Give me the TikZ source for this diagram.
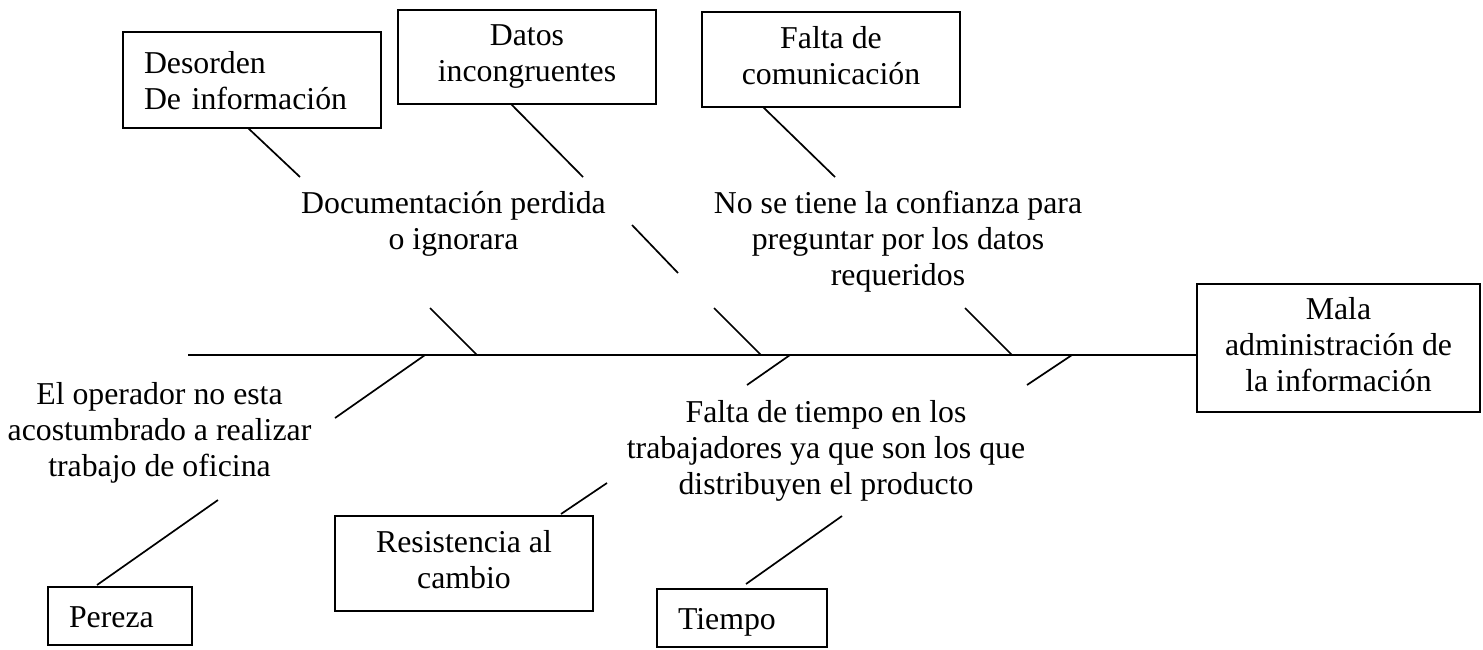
\documentclass[tikz,border=0pt]{standalone}
\usepackage{fontspec}
\setmainfont{Liberation Serif}
\tikzset{
  fb/.style={font=\fontsize{31.8}{36}\selectfont},
  box/.style={draw, line width=1.7pt, fb, inner sep=0pt, align=center,
    execute at begin node={\rule{0pt}{30pt}},
    execute at end node={\rule[-8pt]{0pt}{8pt}}},
  lbox/.style={box, align=left, inner xsep=21pt},
  txt/.style={fb, inner sep=0pt, align=center,
    execute at begin node=\strut, execute at end node=\strut},
  bone/.style={line width=1.7pt},
}
\begin{document}
\begin{tikzpicture}[x=1pt,y=-1pt]
\useasboundingbox (0,0) rectangle (1483,649);

% boxes
\node[lbox, text width=216pt, minimum height=96pt] (desorden) at (252,80) {Desorden\\De información};
\node[box, minimum width=258pt, minimum height=94pt] (datos) at (527,57) {Datos\\incongruentes};
\node[box, minimum width=258pt, minimum height=95pt] (falta) at (831,59.5) {Falta de\\comunicación};
\node[box, minimum width=283pt, minimum height=128pt] (mala) at (1338.5,348) {Mala\\administración de\\la información};
\node[lbox, text width=102pt, minimum height=58pt] (pereza) at (120,616) {Pereza};
\node[box, minimum width=258pt, minimum height=95pt] (resist) at (464,563.5) {Resistencia al\\cambio};
\node[lbox, text width=128pt, minimum height=58pt] (tiempo) at (742,618) {Tiempo};

% free texts
\node[txt] (doc) at (453.5,225.8) {Documentación perdida\\o ignorara};
\node[txt] (conf) at (898,243.8) {No se tiene la confianza para\\preguntar por los datos\\requeridos};
\node[txt] (oper) at (159.5,434.8) {El operador no esta\\acostumbrado a realizar\\trabajo de oficina};
\node[txt] (ftiempo) at (826,452.8) {Falta de tiempo en los\\trabajadores ya que son los que\\distribuyen el producto};

% spine
\coordinate (tail) at (188,355);
\draw[bone] (tail) -- (tail -| mala.west);

% upper ribs
\coordinate (u1a) at (248,128); \coordinate (u1b) at (300,177);
\coordinate (u1c) at (430,308); \coordinate (u1d) at (477,355);
\draw[bone] (u1a) -- (u1b) (u1c) -- (u1d);

\coordinate (u2a) at (511,104); \coordinate (u2b) at (583,177);
\coordinate (u2c) at (632,225); \coordinate (u2d) at (678,273);
\coordinate (u2e) at (714,308); \coordinate (u2f) at (761,355);
\draw[bone] (u2a) -- (u2b) (u2c) -- (u2d) (u2e) -- (u2f);

\coordinate (u3a) at (763,107); \coordinate (u3b) at (835,177);
\coordinate (u3c) at (965,308); \coordinate (u3d) at (1012,355);
\draw[bone] (u3a) -- (u3b) (u3c) -- (u3d);

% lower ribs
\coordinate (l1a) at (425,355); \coordinate (l1b) at (335,418);
\coordinate (l1c) at (218,500); \coordinate (l1d) at (97,585);
\draw[bone] (l1a) -- (l1b) (l1c) -- (l1d);

\coordinate (l2a) at (790,355); \coordinate (l2b) at (747,385);
\coordinate (l2c) at (607,483); \coordinate (l2d) at (561,514);
\draw[bone] (l2a) -- (l2b) (l2c) -- (l2d);

\coordinate (l3a) at (1072,355); \coordinate (l3b) at (1027,385);
\coordinate (l3c) at (842,516); \coordinate (l3d) at (746,584);
\draw[bone] (l3a) -- (l3b) (l3c) -- (l3d);
\end{tikzpicture}
\end{document}
